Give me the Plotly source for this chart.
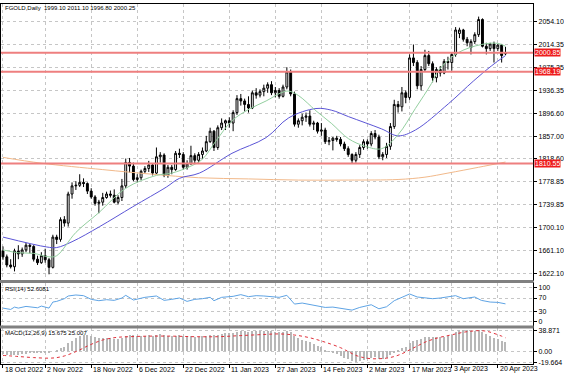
import plotly.graph_objects as go

# ---------------- data ----------------
chart_title = "FGOLD,Daily  1999.10 2011.10 1996.80 2000.25"
rsi_title = "RSI(14) 52.6081"
macd_title = "MACD(12,26,9) 15.675 25.007"

opens = [1660, 1650, 1636, 1633, 1660, 1655, 1662, 1670, 1668, 1646, 1640, 1652, 1645, 1632, 1684, 1680, 1714, 1708, 1758, 1772,
         1773, 1778, 1776, 1763, 1753, 1742, 1744, 1752, 1758, 1756, 1744, 1752, 1772, 1812, 1806, 1783, 1786, 1797, 1802, 1808,
         1794, 1822, 1825, 1790, 1804, 1800, 1828, 1826, 1804, 1810, 1824, 1816, 1826, 1832, 1848, 1866, 1838, 1872, 1880, 1884,
         1880, 1898, 1922, 1918, 1912, 1906, 1932, 1928, 1934, 1940, 1946, 1932, 1936, 1926, 1942, 1968, 1930, 1878, 1884, 1890,
         1892, 1878, 1880, 1866, 1868, 1848, 1850, 1854, 1852, 1844, 1836, 1826, 1816, 1826, 1838, 1848, 1844, 1862, 1856, 1822,
         1826, 1840, 1874, 1912, 1908, 1932, 1924, 1992, 1984, 1944, 1972, 1996, 1982, 1958, 1972, 1966, 1986, 1984, 1998, 2034,
         2040, 2024, 2010, 2020, 2032, 2058, 2012, 2008, 2016, 2008, 2014, 1999.10]
highs = [1668, 1654, 1646, 1664, 1670, 1666, 1674, 1672, 1670, 1652, 1658, 1664, 1648, 1688, 1688, 1718, 1720, 1762, 1778, 1780,
         1792, 1785, 1778, 1768, 1756, 1748, 1760, 1762, 1764, 1766, 1756, 1784, 1819, 1820, 1812, 1792, 1800, 1806, 1815, 1810,
         1838, 1830, 1828, 1808, 1808, 1832, 1836, 1830, 1816, 1841, 1828, 1830, 1838, 1858, 1872, 1868, 1876, 1888, 1886, 1890,
         1902, 1928, 1930, 1922, 1926, 1936, 1940, 1938, 1946, 1950, 1952, 1942, 1940, 1946, 1976, 1972, 1934, 1888, 1896, 1898,
         1902, 1884, 1882, 1880, 1872, 1856, 1856, 1858, 1856, 1848, 1840, 1828, 1830, 1842, 1852, 1852, 1866, 1868, 1860, 1830,
         1846, 1880, 1920, 1918, 1942, 1936, 1998, 2015, 1988, 1978, 2006, 2004, 1986, 1976, 1978, 1990, 1994, 2002, 2045, 2044,
         2042, 2028, 2024, 2036, 2063, 2060, 2018, 2018, 2020, 2016, 2016, 2011.10]
lows = [1645, 1632, 1630, 1625, 1646, 1650, 1658, 1656, 1642, 1636, 1638, 1640, 1620, 1630, 1672, 1676, 1702, 1702, 1750, 1765,
        1770, 1770, 1758, 1750, 1738, 1725, 1738, 1750, 1752, 1742, 1740, 1746, 1768, 1795, 1780, 1778, 1782, 1794, 1796, 1790,
        1792, 1812, 1787, 1786, 1792, 1798, 1820, 1800, 1800, 1808, 1810, 1812, 1818, 1830, 1846, 1832, 1834, 1868, 1868, 1872,
        1866, 1894, 1910, 1900, 1898, 1904, 1922, 1924, 1926, 1932, 1928, 1924, 1922, 1924, 1938, 1926, 1874, 1872, 1876, 1882,
        1874, 1868, 1862, 1858, 1844, 1842, 1833, 1848, 1840, 1832, 1822, 1811, 1812, 1820, 1834, 1836, 1840, 1852, 1818, 1816,
        1820, 1834, 1870, 1898, 1900, 1914, 1920, 1978, 1938, 1936, 1968, 1978, 1950, 1950, 1960, 1964, 1972, 1970, 1994, 2026,
        2020, 2012, 1998, 2016, 2028, 2010, 1998, 2004, 1984, 2004, 1984, 1996.80]
closes = [1650, 1636, 1633, 1660, 1655, 1662, 1670, 1668, 1646, 1640, 1652, 1645, 1632, 1684, 1680, 1714, 1708, 1758, 1772, 1773,
          1778, 1776, 1763, 1753, 1742, 1744, 1752, 1758, 1756, 1744, 1752, 1772, 1812, 1806, 1783, 1786, 1797, 1802, 1808, 1794,
          1822, 1825, 1790, 1804, 1800, 1828, 1826, 1804, 1810, 1824, 1816, 1826, 1832, 1848, 1866, 1838, 1872, 1880, 1884, 1880,
          1898, 1922, 1918, 1912, 1906, 1932, 1928, 1934, 1940, 1946, 1932, 1936, 1926, 1942, 1968, 1930, 1878, 1884, 1890, 1892,
          1878, 1880, 1866, 1868, 1848, 1850, 1854, 1852, 1844, 1836, 1826, 1816, 1826, 1838, 1848, 1844, 1862, 1856, 1822, 1826,
          1840, 1874, 1912, 1908, 1932, 1924, 1992, 1984, 1944, 1972, 1996, 1982, 1958, 1972, 1966, 1986, 1984, 1998, 2040, 2040,
          2024, 2018, 2020, 2032, 2058, 2012, 2008, 2016, 2008, 2014, 1996, 2000.25]

# moving averages read at sampled bars (bar index, price)
ma_fast_idx = [0, 4, 8, 12, 14, 19, 25, 32, 40, 44, 49, 52, 55.6, 59.7, 64.2, 68.6, 72.5, 74.5, 77.1, 81.6, 85.7, 90.1,
               94.5, 98.7, 103, 107.5, 111.7, 113.5, 118.4, 124.7, 129, 131]
ma_fast_val = [1662, 1657, 1656, 1650, 1652, 1692, 1726, 1768, 1790, 1794, 1806, 1818, 1850, 1884, 1904, 1918, 1932, 1935,
               1927, 1901, 1879, 1853, 1840, 1836, 1860, 1905, 1948, 1970, 2000, 2015, 2017, 2012]
ma_mid_idx = [0, 11.4, 14, 18, 25.2, 33.8, 42.6, 46, 51.2, 59.7, 68.6, 74.5, 81.6, 85.7, 90.1, 98.7, 103, 107.5, 116.1,
              122.6, 127.3, 131]
ma_mid_val = [1684, 1667, 1666, 1676, 1702, 1736, 1770, 1785, 1794, 1828, 1855, 1889, 1905, 1902, 1891, 1870, 1858, 1868,
              1913, 1952, 1978, 1996]
ma_slow_idx = [0, 10, 26, 39, 51, 64, 77, 90, 103, 110, 116, 124, 131]
ma_slow_val = [1821, 1811, 1800, 1792, 1786, 1784, 1782, 1782, 1783, 1787, 1794, 1804, 1813]

# horizontal levels
level_values = [2000.85, 1968.19, 1810.55]
level_labels = ["2000.85", "1968.19", "1810.55"]

# price scale
price_ticks = [2054.10, 2014.35, 1975.35, 1936.35, 1896.60, 1857.00, 1818.60, 1778.85, 1739.85, 1700.10, 1661.10, 1622.10]
price_tick_labels = ["2054.10", "2014.35", "1975.35", "1936.35", "1896.60", "1857.00", "1818.60", "1778.85",
                     "1739.85", "1700.10", "1661.10", "1622.10"]

# time scale (bar index of each labelled date)
date_idx = [0, 11, 23, 35, 47, 59, 71, 83, 95, 106, 117, 129]
date_labels = ["18 Oct 2022", "2 Nov 2022", "18 Nov 2022", "6 Dec 2022", "22 Dec 2022", "11 Jan 2023",
               "27 Jan 2023", "14 Feb 2023", "2 Mar 2023", "17 Mar 2023", "3 Apr 2023", "20 Apr 2023"]

# RSI(14) read at sampled bars
rsi_idx = [0, 2, 3, 4, 6, 8, 9, 10, 11, 12, 13, 14, 16, 17, 19, 21, 23, 25, 27, 29, 31, 32, 34, 37, 40, 42, 44, 46, 48,
           50, 52, 54, 55, 57, 60, 62, 64, 66, 68, 70, 72, 74, 76, 78, 80, 82, 84, 86, 88, 90, 91, 93, 96, 98, 100, 102,
           104, 106, 108, 110, 112, 114, 116, 118, 120, 122, 123, 124.7, 127, 129, 130, 131]
rsi_val = [40, 36, 43, 40, 45, 43, 41, 46, 43, 40, 58, 60, 68, 76, 79, 77, 66, 62, 65, 63, 70, 78, 64, 72, 76, 63, 66, 70,
           60, 66, 68, 72, 62, 72, 75, 80, 74, 77, 76, 74, 72, 78, 52, 55, 50, 46, 42, 43, 40, 36, 34, 42, 50, 38, 44, 62,
           73, 82, 73, 70, 68, 70, 73, 77, 68, 70, 73, 63, 58, 57, 55, 52.6]
rsi_ticks = [100, 70, 30, 0]

# MACD(12,26,9) main (histogram, one per bar) and signal (sampled)
macd_main = [-6, -7, -8, -8, -7, -6, -5, -4, -4, -4, -3, -3, -4, 0, 2, 6, 8, 14, 19, 23,
             27, 29, 29, 28, 26, 24, 23, 23, 23, 22, 22, 24, 28, 30, 29, 28, 28, 28, 29, 28,
             30, 31, 29, 28, 27, 28, 29, 28, 27, 27, 26, 26, 27, 28, 30, 29, 30, 31, 32, 32,
             33, 35, 36, 36, 35, 36, 36, 36, 37, 37, 36, 35, 34, 34, 36, 34, 28, 24, 21, 19,
             16, 13, 10, 7, 2, -1, -3, -6, -9, -12, -15, -18, -19.664, -18, -16, -15, -12, -11, -14, -15,
             -13, -8, -2, 2, 6, 8, 14, 19, 20, 22, 25, 26, 25, 25, 25, 26, 27, 30, 35, 38,
             38.871, 38, 37, 37, 38, 35, 31, 28, 24, 22, 18, 15.675]
signal_idx = [0, 4, 8, 12, 14, 16, 18, 20, 22, 24, 26, 28, 30, 33, 38, 44, 50, 56, 62, 68, 72, 76, 80, 84, 88, 90, 92,
              94, 96, 98, 100, 102, 104, 106, 108, 110, 112, 114, 116, 118, 120, 122, 124, 126, 128, 130, 131]
signal_val = [-7, -9, -11, -12, -11, -8, -3, 3, 10, 16, 21, 24, 26, 27, 28, 28, 27, 27, 29, 31, 32, 30, 25, 17, 7, 0, -7,
              -11, -13, -13, -12, -9, -4, 3, 10, 17, 22, 26, 29, 32, 35, 37, 38, 37, 33, 28, 25.007]
macd_ticks = [38.871, 0.0, -19.664]
macd_tick_labels = ["38.871", "0.00", "-19.664"]

# ---------------- figure ----------------
W, H = 564, 376
bar_x = list(range(len(closes)))


def py(px):
    return 1 - px / H


x_dom = [1 / W, 535 / W]
font = "Liberation Sans, Arial, sans-serif"
grid = "#c6c6c6"

fig = go.Figure()
fig.add_trace(go.Candlestick(
    x=bar_x, open=opens, high=highs, low=lows, close=closes,
    increasing=dict(line=dict(color="black", width=1), fillcolor="white"),
    decreasing=dict(line=dict(color="black", width=1), fillcolor="black"),
    whiskerwidth=0, hoverinfo="skip", showlegend=False, xaxis="x", yaxis="y"))
fig.add_trace(go.Scatter(x=ma_slow_idx, y=ma_slow_val, mode="lines", line=dict(color="#f2b98a", width=1, shape="spline"),
                         xaxis="x", yaxis="y", showlegend=False, hoverinfo="skip"))
fig.add_trace(go.Scatter(x=ma_mid_idx, y=ma_mid_val, mode="lines", line=dict(color="#5b55d6", width=1, shape="spline"),
                         xaxis="x", yaxis="y", showlegend=False, hoverinfo="skip"))
fig.add_trace(go.Scatter(x=ma_fast_idx, y=ma_fast_val, mode="lines", line=dict(color="#93cf9f", width=1, shape="spline"),
                         xaxis="x", yaxis="y", showlegend=False, hoverinfo="skip"))

fig.add_trace(go.Scatter(x=rsi_idx, y=rsi_val, mode="lines", line=dict(color="#5ea3e4", width=1),
                         xaxis="x2", yaxis="y2", showlegend=False, hoverinfo="skip"))

fig.add_trace(go.Bar(x=bar_x, y=macd_main, width=0.28, marker=dict(color="#b8b8b8", line=dict(width=0)),
                     xaxis="x3", yaxis="y3", showlegend=False, hoverinfo="skip"))
fig.add_trace(go.Scatter(x=signal_idx, y=signal_val, mode="lines", line=dict(color="#e0303a", width=1, dash="dot", shape="spline"),
                         xaxis="x3", yaxis="y3", showlegend=False, hoverinfo="skip"))

x_range = [-0.52, 138.2]
xcommon = dict(domain=x_dom, range=x_range, tickvals=date_idx, showticklabels=False, showgrid=True, gridcolor=grid,
               griddash="dot", gridwidth=1, zeroline=False, showline=True, mirror=True, linecolor="black",
               linewidth=1, fixedrange=True)
ycommon = dict(side="right", showgrid=True, gridcolor=grid, griddash="dot", zeroline=False, showline=True,
               mirror=True, linecolor="black", linewidth=1, ticks="outside", ticklen=3, tickcolor="black",
               tickfont=dict(family=font, size=7, color="black"), fixedrange=True)

fig.update_layout(
    width=W, height=H, margin=dict(l=0, r=0, t=0, b=0),
    paper_bgcolor="white", plot_bgcolor="white", showlegend=False, bargap=0,
    font=dict(family=font, size=7, color="black"),
    xaxis=dict(**xcommon, anchor="y", rangeslider=dict(visible=False), ticks=""),
    xaxis2=dict(**xcommon, anchor="y2", matches="x", ticks=""),
    xaxis3=dict(**xcommon, anchor="y3", matches="x", ticks="outside", ticklen=3, tickcolor="black"),
    yaxis=dict(**ycommon, domain=[py(281), py(2)], range=[1610.2, 2084.7], anchor="x",
               tickvals=price_ticks, ticktext=price_tick_labels),
    yaxis2=dict(**ycommon, domain=[py(327), py(284)], range=[-11.8, 114.7], anchor="x2",
                tickvals=rsi_ticks, ticktext=[str(v) for v in rsi_ticks]),
    yaxis3=dict(**ycommon, domain=[py(366), py(330)], range=[-22.8, 41.9], anchor="x3",
                tickvals=macd_ticks, ticktext=macd_tick_labels),
)

# horizontal levels
for v in level_values:
    fig.add_shape(type="line", xref="x domain", yref="y", x0=0, x1=1, y0=v, y1=v,
                  line=dict(color="#ee7f7f", width=2), layer="above")

# panel separators
for top, bot in [(281, 284), (327, 330)]:
    fig.add_shape(type="rect", xref="paper", yref="paper", x0=0, x1=535.5 / W, y0=py(bot), y1=py(top),
                  fillcolor="#808080", line=dict(width=0), layer="above")

annotations = []
for v, t in zip(level_values, level_labels):
    annotations.append(dict(xref="paper", yref="y", x=536 / W, y=v, xanchor="left", yanchor="middle", text=t,
                            showarrow=False, bgcolor="#ee1c1c", font=dict(family=font, size=7, color="white"),
                            borderpad=0))
for i, t in zip(date_idx, date_labels):
    annotations.append(dict(xref="x3", yref="paper", x=i, y=py(371), xanchor="left", yanchor="middle", text=t,
                            showarrow=False, font=dict(family=font, size=7, color="black")))
for t, ypx in [(chart_title, 6), (rsi_title, 290), (macd_title, 335)]:
    annotations.append(dict(xref="paper", yref="paper", x=3 / W, y=py(ypx), xanchor="left", yanchor="middle",
                            text=t, showarrow=False, font=dict(family=font, size=6, color="black")))
fig.update_layout(annotations=annotations)

fig.write_html("out.html", config={"displayModeBar": False},
               post_script="document.body.style.margin='0';document.body.style.overflow='hidden';")
